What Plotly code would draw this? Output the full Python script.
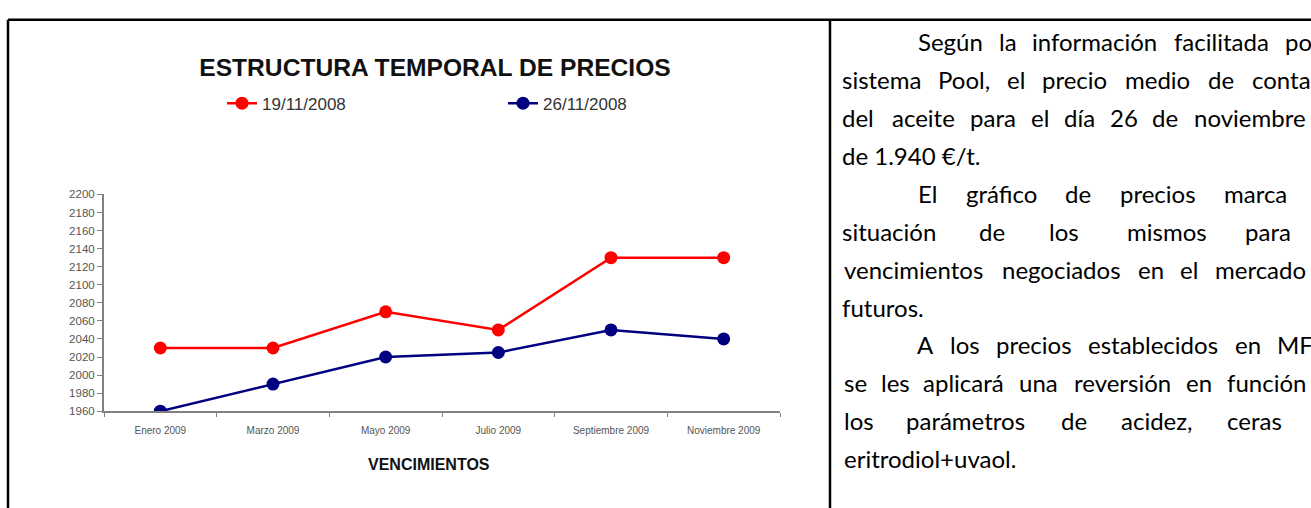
import plotly.graph_objects as go

# Chart data
vencimientos = ["Enero 2009", "Marzo 2009", "Mayo 2009", "Julio 2009",
                "Septiembre 2009", "Noviembre 2009"]
precios_19nov = [2030, 2030, 2070, 2050, 2130, 2130]
precios_26nov = [1960, 1990, 2020, 2025, 2050, 2040]
y_ticks = list(range(1960, 2201, 20))
grid_ticks = y_ticks[1:-1]

W, H = 1311, 508
CHART_FONT = "Arial, Liberation Sans, sans-serif"
TEXT_FONT = "Lato, sans-serif"


def px(x):
    return x / W


def py(y):
    return 1 - y / H


fig = go.Figure()

fig.add_trace(go.Scatter(
    x=vencimientos, y=precios_19nov, name="19/11/2008",
    mode="lines+markers",
    line=dict(color="#ff0000", width=2.5),
    marker=dict(color="#ff0000", size=13),
))
fig.add_trace(go.Scatter(
    x=vencimientos, y=precios_26nov, name="26/11/2008",
    mode="lines+markers",
    line=dict(color="#000080", width=2.5),
    marker=dict(color="#000080", size=13),
))

fig.update_layout(
    width=W, height=H,
    margin=dict(l=0, r=0, t=0, b=0),
    paper_bgcolor="white", plot_bgcolor="white",
    font=dict(family=CHART_FONT, color="#555"),
    title=dict(text="<b>ESTRUCTURA TEMPORAL DE PRECIOS</b>",
               x=px(435), y=py(67), xanchor="center", yanchor="middle",
               font=dict(size=24.6, color="#111", family=CHART_FONT)),
    legend=dict(orientation="h", x=px(222), y=py(100),
                xanchor="left", yanchor="middle",
                entrywidth=236, entrywidthmode="pixels",
                font=dict(size=17, color="#333", family=CHART_FONT),
                bgcolor="rgba(0,0,0,0)"),
    xaxis=dict(domain=[px(104), px(780)], type="category",
               range=[-0.5, 5.5], tickson="boundaries",
               ticks="outside", ticklen=4, tickcolor="#808080",
               ticklabelstandoff=9,
               showline=True, linecolor="#808080", linewidth=2,
               showgrid=False, zeroline=False,
               tickfont=dict(size=10, color="#555")),
    yaxis=dict(domain=[py(415), py(193)], range=[1960, 2200],
               tickvals=y_ticks, ticks="outside", ticklen=5,
               tickcolor="#808080",
               showline=True, linecolor="#808080", linewidth=2,
               showgrid=False, zeroline=False,
               tickfont=dict(size=11.5, color="#555")),
    # gridlines only between the end ticks (none at 2200)
    yaxis2=dict(overlaying="y", anchor="x", range=[1960, 2200],
                tickvals=grid_ticks, showticklabels=False, ticks="",
                showgrid=True, gridcolor="#8c8c8c", gridwidth=2,
                showline=False, zeroline=False),
)

# axis title
fig.add_annotation(text="<b>VENCIMIENTOS</b>", xref="paper", yref="paper",
                   x=px(429), y=py(470), showarrow=False,
                   xanchor="center", yanchor="middle",
                   font=dict(size=16, color="#111", family=CHART_FONT))

# table frame around chart and text
frame = [
    (8, 14, 1311, 14),
    (8, 14, 8, 516),
    (830, 14, 830, 516),
]
for x0, y0, x1, y1 in frame:
    fig.add_shape(type="line", xref="paper", yref="paper",
                  x0=px(x0), y0=py(y0), x1=px(x1), y1=py(y1),
                  line=dict(color="black", width=2.5))

# right column text; justified lines are placed word by word
text_lines = [
    [("Según", 916), ("la", 997), ("información", 1030),
     ("facilitada", 1172), ("por el", 1283)],
    [("sistema", 840), ("Pool,", 936), ("el", 1005), ("precio", 1040),
     ("medio", 1123), ("de", 1206), ("contado", 1250)],
    [("del", 840), ("aceite", 890), ("para", 968), ("el", 1029),
     ("día", 1062), ("26", 1108), ("de", 1150), ("noviembre", 1192)],
    [("de 1.940 €/t.", 840)],
    [("El", 916), ("gráfico", 964), ("de", 1063), ("precios", 1118),
     ("marca", 1222), ("la", 1315)],
    [("situación", 840), ("de", 977), ("los", 1047),
     ("mismos", 1125), ("para", 1243)],
    [("vencimientos", 842), ("negociados", 1000), ("en", 1136),
     ("el", 1178), ("mercado", 1213), ("de", 1323)],
    [("futuros.", 840)],
    [("A", 915), ("los", 948), ("precios", 994),
     ("establecidos", 1086), ("en", 1233), ("MFAO", 1275)],
    [("se", 842), ("les", 879), ("aplicará", 921), ("una", 1017),
     ("reversión", 1072), ("en", 1184), ("función", 1225), ("de", 1319)],
    [("los", 842), ("parámetros", 904), ("de", 1059),
     ("acidez,", 1119), ("ceras", 1225), ("y", 1314)],
    [("eritrodiol+uvaol.", 842)],
]
first_line_y, line_step = 36, 38.9
for i, words in enumerate(text_lines):
    y_mid = first_line_y + i * line_step
    for word, x in words:
        fig.add_annotation(text=word, xref="paper", yref="paper",
                           x=px(x), y=py(y_mid), showarrow=False,
                           xanchor="left", yanchor="middle",
                           font=dict(size=24, color="#000", family=TEXT_FONT))

# the page body has a default margin; drop it so the figure fills the window
fig.write_html("out.html",
               config={"displayModeBar": False},
               post_script="document.body.style.margin='0px';"
                           "document.body.style.overflow='hidden';")
